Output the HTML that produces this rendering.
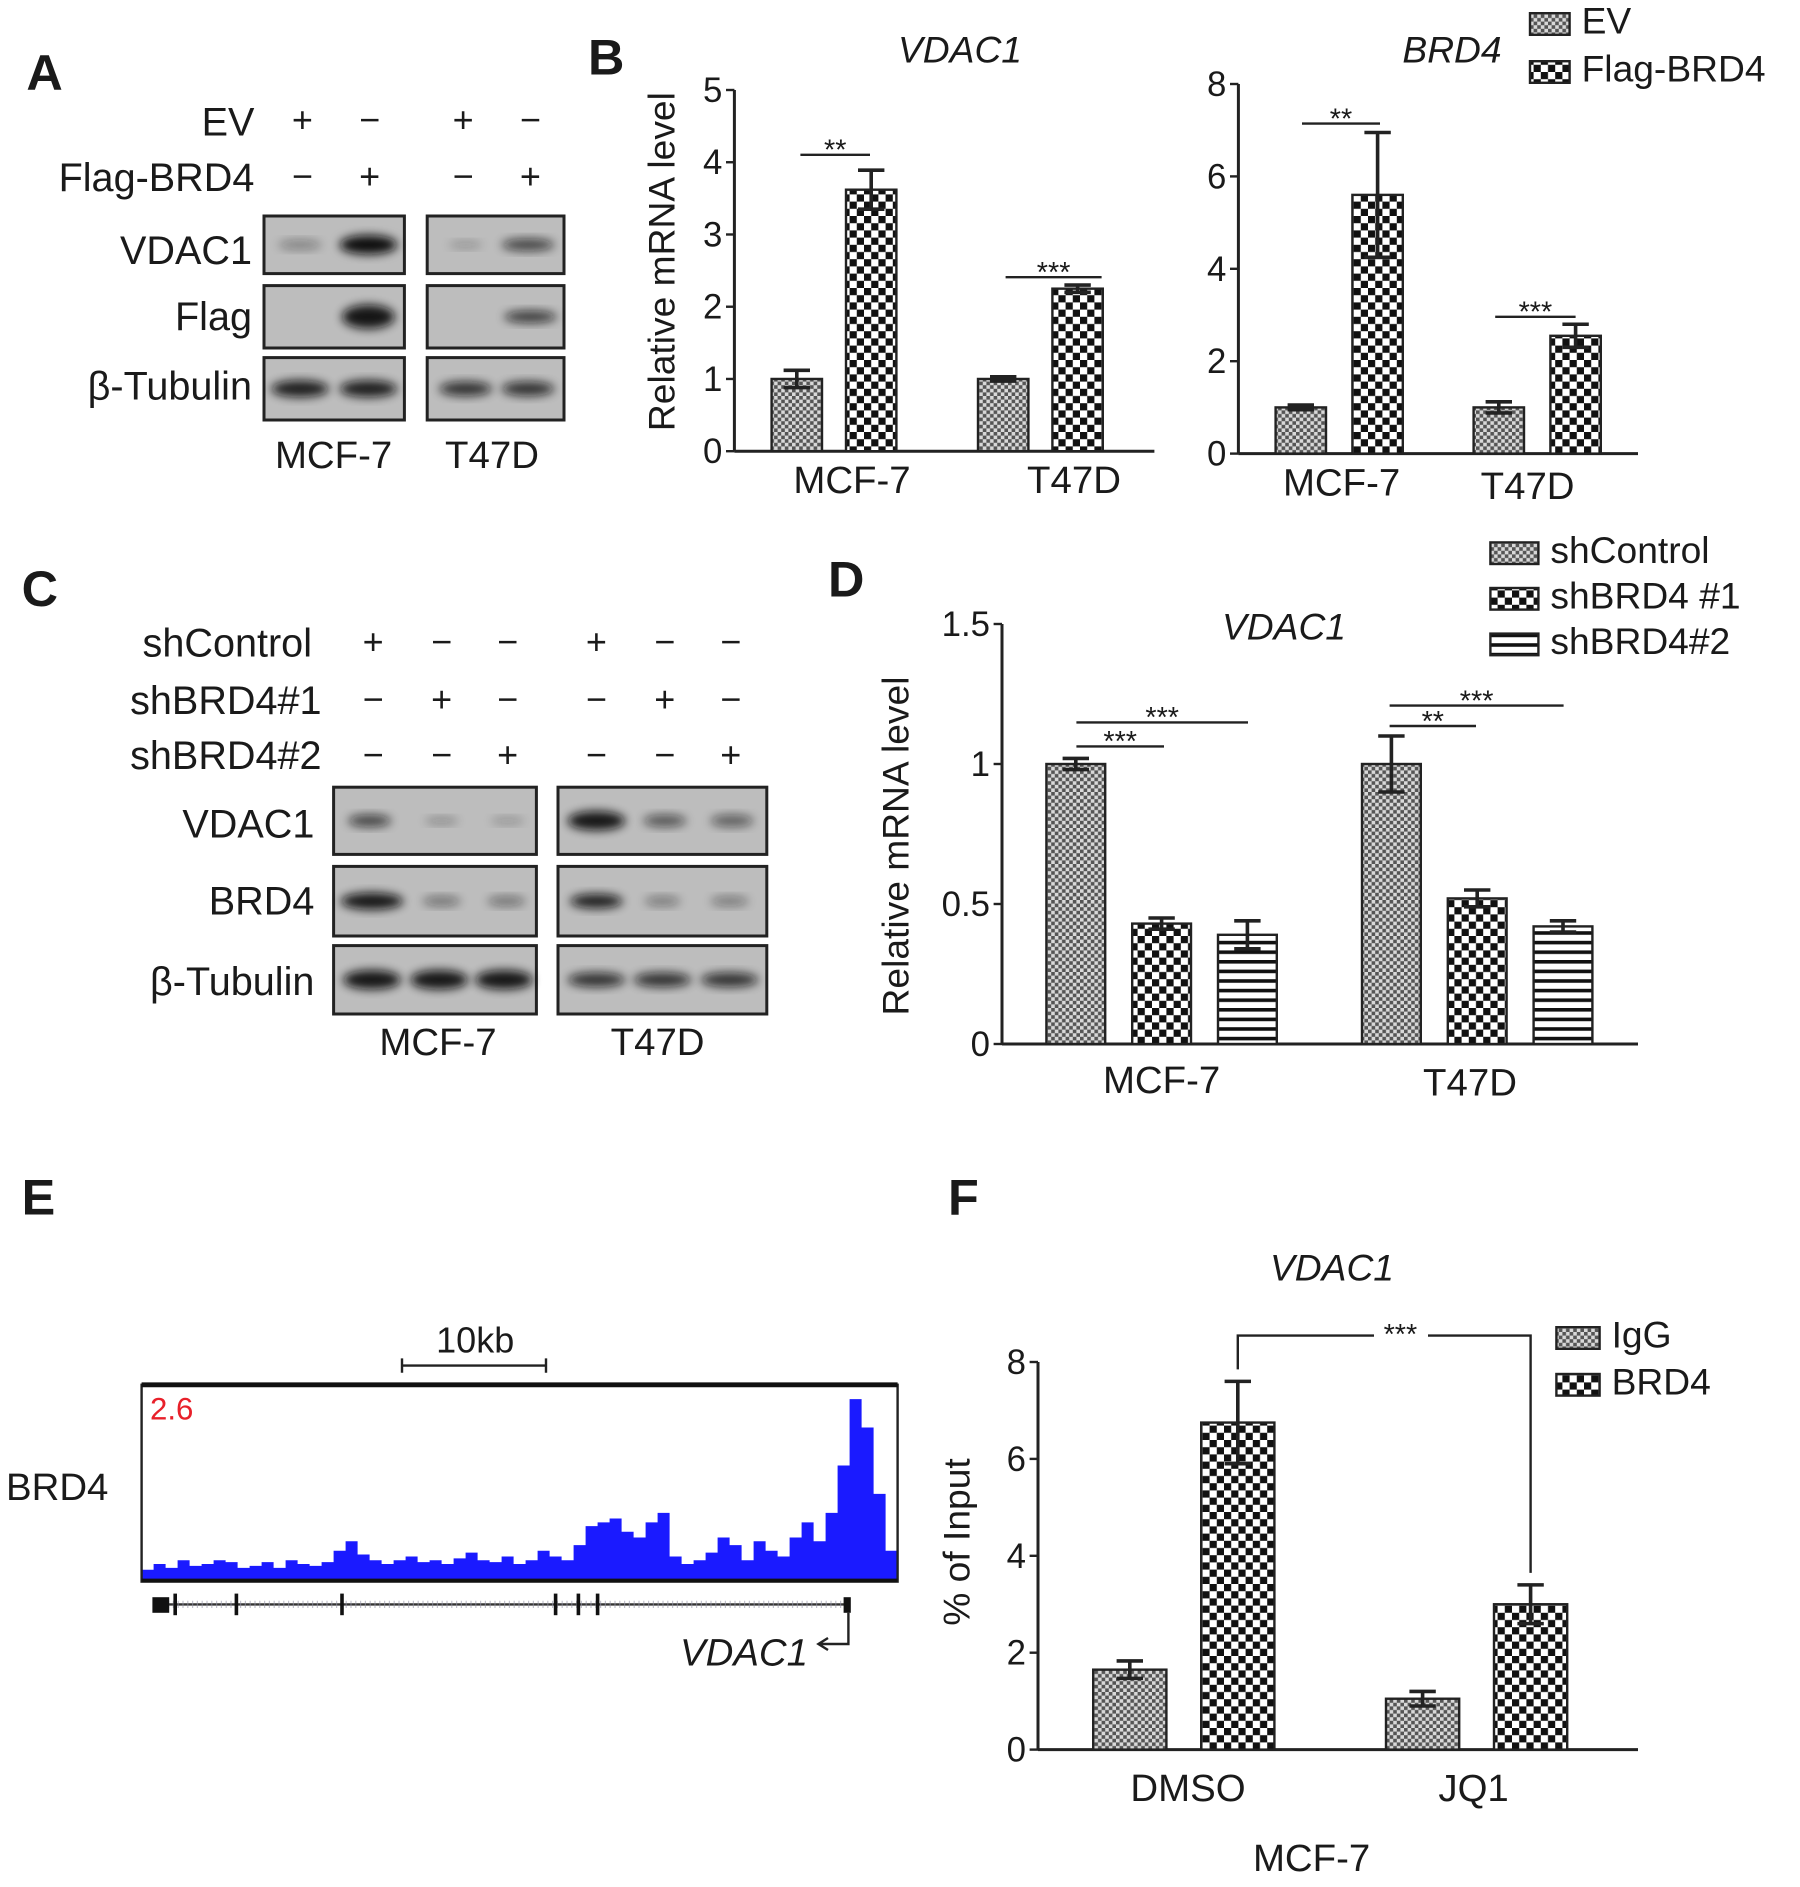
<!DOCTYPE html>
<html><head><meta charset="utf-8">
<style>
html,body{margin:0;padding:0;background:#fff;}
svg{display:block;font-family:"Liberation Sans",Arial,sans-serif;}
</style></head>
<body>
<svg id="fig" width="1800" height="1887" viewBox="0 0 1500 1572.5" xmlns="http://www.w3.org/2000/svg">
<defs>
  <pattern id="pFine" width="6" height="6" patternUnits="userSpaceOnUse">
    <rect width="6" height="6" fill="#d8d8d8"/>
    <rect width="3" height="3" fill="#555"/><rect x="3" y="3" width="3" height="3" fill="#555"/>
  </pattern>
  <pattern id="pBold" width="12" height="12" patternUnits="userSpaceOnUse">
    <rect width="12" height="12" fill="#fff"/>
    <rect width="6" height="6" fill="#111"/><rect x="6" y="6" width="6" height="6" fill="#111"/>
  </pattern>
  <pattern id="pStripe" width="8" height="8" patternUnits="userSpaceOnUse">
    <rect width="8" height="8" fill="#fff"/><rect y="0" width="8" height="3" fill="#111"/>
  </pattern>
  <filter id="blur" x="-50%" y="-50%" width="200%" height="200%"><feGaussianBlur stdDeviation="4"/></filter>
</defs>
<g id="root"></g>
</svg>
<script>
// ---------- data ----------
const bCats = ["MCF-7","T47D"];
const bVdacEV = [1.0, 1.0];
const bVdacEVErr = [0.12, 0.03];
const bVdacFlag = [3.62, 2.25];
const bVdacFlagErr = [0.27, 0.05];
const bVdacTicks = [0,1,2,3,4,5];
const bBrdEV = [1.0, 1.0];
const bBrdEVErr = [0.05, 0.12];
const bBrdFlag = [5.6, 2.55];
const bBrdFlagErr = [1.35, 0.25];
const bBrdTicks = [0,2,4,6,8];
const dCats = ["MCF-7","T47D"];
const dShControl = [1.0, 1.0];
const dShControlErr = [0.02, 0.1];
const dShBRD4a = [0.43, 0.52];
const dShBRD4aErr = [0.02, 0.03];
const dShBRD4b = [0.39, 0.42];
const dShBRD4bErr = [0.05, 0.02];
const dTicks = [0,0.5,1,1.5];
const dTickLabels = ["0","0.5","1","1.5"];
const fCats = ["DMSO","JQ1"];
const fIgG = [1.65, 1.05];
const fIgGErr = [0.18, 0.15];
const fBRD4 = [6.75, 3.0];
const fBRD4Err = [0.85, 0.4];
const fTicks = [0,2,4,6,8];
const signal = [0.05,0.08,0.06,0.1,0.07,0.08,0.1,0.09,0.06,0.07,0.09,0.06,0.1,0.08,0.07,0.09,0.15,0.2,0.13,0.1,0.08,0.1,0.12,0.09,0.1,0.08,0.11,0.14,0.1,0.09,0.12,0.08,0.1,0.15,0.12,0.1,0.18,0.28,0.3,0.32,0.25,0.22,0.3,0.35,0.12,0.08,0.1,0.14,0.22,0.18,0.1,0.2,0.15,0.12,0.22,0.3,0.2,0.35,0.6,0.95,0.8,0.45,0.15];

const NS="http://www.w3.org/2000/svg";
const root=document.getElementById('root');
function el(tag,attrs,parent){const e=document.createElementNS(NS,tag);for(const k in attrs)e.setAttribute(k,attrs[k]);(parent||root).appendChild(e);return e;}
function txt(s,x,y,size,anchor,extra,parent){const t=el('text',Object.assign({x:x,y:y,'font-size':size,'text-anchor':anchor||'start',fill:'#1a1a1a'},extra||{}),parent);t.textContent=s;return t;}

// panel letters
[["A",22,75],["B",490,62],["C",18,505],["D",690,497],["E",18,1012],["F",790,1012]].forEach(p=>{
  const t=txt(p[0],p[1],p[2],42,'start',{'font-weight':'bold'});
  
  
});

// ---------- generic bar chart ----------
function barChart(o){
  const g=el('g',{});
  
  
  const y=v=>o.y0-(v-o.tMin)/(o.tMax-o.tMin)*(o.y0-o.yTop);
  // axes
  const ya=el('line',{x1:o.x0,y1:o.yTop,x2:o.x0,y2:o.y0,stroke:'#222','stroke-width':2.5},g);
  
  
  const xa=el('line',{x1:o.x0,y1:o.y0,x2:o.x1,y2:o.y0,stroke:'#222','stroke-width':2.5},g);
  
  
  o.ticks.forEach((tv,i)=>{
    el('line',{x1:o.x0-7,y1:y(tv),x2:o.x0,y2:y(tv),stroke:'#222','stroke-width':2},g);
    const t=txt(o.tickLabels?o.tickLabels[i]:String(tv),o.x0-10,y(tv)+10,29,'end',{},g);
    
    
  });
  o.series.forEach((s,si)=>{
    s.vals.forEach((v,ci)=>{
      const bx=o.groupX[ci]+si*o.step;
      const r=el('rect',{x:bx,y:y(v),width:o.bw,height:o.y0-y(v),fill:'url(#'+s.pat+')',stroke:'#222','stroke-width':2},g);
      
      
      const cx=bx+o.bw/2, e=s.err[ci];
      const eb=el('path',{d:`M${cx},${y(v-e)}V${y(v+e)}M${cx-11},${y(v+e)}H${cx+11}M${cx-11},${y(v-e)}H${cx+11}`,stroke:'#222','stroke-width':3,fill:'none'},g);
      
      
    });
  });
  o.cats.forEach((c,ci)=>{
    const t=txt(c,o.catX[ci],o.catY[ci],32,'middle',{},g);
    
    
  });
  const yl=txt(o.ylabel,0,0,31,'middle',{transform:`translate(${o.ylx},${o.yly}) rotate(-90)`},g);
  
  
  if(o.title){const t=txt(o.title,o.title[1]||0,0,31,'middle',{'font-style':'italic'},g);}
  return {g,y};
}
function sig(g,x1,x2,yy,stars){
  const l=el('line',{x1:x1,y1:yy,x2:x2,y2:yy,stroke:'#222','stroke-width':2},g);
  
  
  const t=txt(stars,(x1+x2)/2,yy+4,24,'middle',{},g);
  
  
}
function title(s,x,y,g){const t=txt(s,x,y,31,'middle',{'font-style':'italic'},g);}
function legend(items,x,y0,dy,bw,bh,size){
  items.forEach((it,i)=>{
    const r=el('rect',{x:x,y:y0+i*dy,width:bw,height:bh,fill:'url(#'+it[1]+')',stroke:'#222','stroke-width':2});
    
    
    const t=txt(it[0],x+bw+10,y0+i*dy+bh-1,size,'start');
    
    
  });
}

// ---------- Panel B left ----------
let c=barChart({name:'chart-b-vdac1',x0:612,x1:962,y0:376,yTop:75,tMin:0,tMax:5,ticks:bVdacTicks,cats:bCats,
  groupX:[643,815],step:62,bw:42,series:[{key:'ev',vals:bVdacEV,err:bVdacEVErr,pat:'pFine'},{key:'flag-brd4',vals:bVdacFlag,err:bVdacFlagErr,pat:'pBold'}],
  catX:[710,895],catY:[411,411],ylabel:'Relative mRNA level',ylx:562,yly:218});
title('VDAC1',800,52,c.g);
sig(c.g,667,725,129,'**'); sig(c.g,838,918,231,'***');

// ---------- Panel B right ----------
c=barChart({name:'chart-b-brd4',x0:1032,x1:1365,y0:378,yTop:70,tMin:0,tMax:8,ticks:bBrdTicks,cats:bCats,
  groupX:[1063,1228],step:64,bw:42,series:[{key:'ev',vals:bBrdEV,err:bBrdEVErr,pat:'pFine'},{key:'flag-brd4',vals:bBrdFlag,err:bBrdFlagErr,pat:'pBold'}],
  catX:[1118,1273],catY:[413,416],ylabel:'',ylx:0,yly:0});
title('BRD4',1210,52,c.g);
sig(c.g,1085,1150,103,'**'); sig(c.g,1246,1313,264,'***');
legend([["EV","pFine","ev"],["Flag-BRD4","pBold","flag-brd4"]],1275,11,40,33,18,31);

// ---------- Panel D ----------
c=barChart({name:'chart-d-vdac1',x0:835,x1:1365,y0:870,yTop:520,tMin:0,tMax:1.5,ticks:dTicks,tickLabels:dTickLabels,cats:dCats,
  groupX:[872,1135],step:71.5,bw:49,series:[{key:'shcontrol',vals:dShControl,err:dShControlErr,pat:'pFine'},{key:'shbrd4-1',vals:dShBRD4a,err:dShBRD4aErr,pat:'pBold'},{key:'shbrd4-2',vals:dShBRD4b,err:dShBRD4bErr,pat:'pStripe'}],
  catX:[968,1225],catY:[911,913],ylabel:'Relative mRNA level',ylx:757,yly:705});
title('VDAC1',1070,533,c.g);
sig(c.g,897,970,622,'***'); sig(c.g,897,1040,602,'***');
sig(c.g,1158,1230,605,'**'); sig(c.g,1158,1303,588,'***');
legend([["shControl","pFine","shcontrol"],["shBRD4 #1","pBold","shbrd4-1"],["shBRD4#2","pStripe","shbrd4-2"]],1242,452,38,40,18,31);

// ---------- Panel F ----------
c=barChart({name:'chart-f-vdac1',x0:865,x1:1365,y0:1458,yTop:1135,tMin:0,tMax:8,ticks:fTicks,cats:fCats,
  groupX:[911,1155],step:90,bw:61,series:[{key:'igg',vals:fIgG,err:fIgGErr,pat:'pFine'},{key:'brd4',vals:fBRD4,err:fBRD4Err,pat:'pBold'}],
  catX:[990,1228],catY:[1501,1501],ylabel:'% of Input',ylx:808,yly:1285});
title('VDAC1',1110,1067,c.g);
{
  const yF=c.y;
  const xa=911+90+61/2, xb=1155+90+61/2;
  const p=el('path',{d:`M${xa},${yF(fBRD4[0]+fBRD4Err[0])-10}V1113H${1145}M${1190},1113H${xb}V${yF(fBRD4[1]+fBRD4Err[1])-10}`,stroke:'#222','stroke-width':2,fill:'none'},c.g);
  
  
  const t=txt('***',1167,1120,24,'middle',{},c.g);
  
  
}
legend([["IgG","pFine","igg"],["BRD4","pBold","brd4"]],1297,1106,39,36,18,31);
{const t=txt('MCF-7',1093,1559,32,'middle');}

// ---------- Western blots ----------
function blot(name,x,y,w,h,bands){
  const g=el('g',{});
  
  
  el('rect',{x:x,y:y,width:w,height:h,fill:'#bdbdbd',stroke:'#222','stroke-width':2.5},g);
  bands.forEach(b=>{
    el('ellipse',{cx:b[0],cy:y+h/2,rx:b[1],ry:b[2],fill:'#111',opacity:b[3],filter:'url(#blur)'},g);
  });
}
function rowLabel(s,x,y,n){const t=txt(s,x,y,33,'end');}
// Panel A
rowLabel('EV',212,113,'ev-label'); rowLabel('Flag-BRD4',212,159,'flag-brd4-label');
[[252,'+','−'],[308,'−','+'],[386,'+','−'],[442,'−','+']].forEach(s=>{
  txt(s[1],s[0],110,30,'middle'); txt(s[2],s[0],157,30,'middle');
});
rowLabel('VDAC1',210,220,'vdac1-row-label'); rowLabel('Flag',210,275,'flag-row-label'); rowLabel('β-Tubulin',210,333,'tubulin-row-label');
blot('blot-a-vdac1-mcf7',220,180,117,48,[[250,18,4,0.35],[307,24,8,1]]);
blot('blot-a-vdac1-t47d',356,180,114,48,[[388,14,3,0.25],[440,22,5,0.7]]);
blot('blot-a-flag-mcf7',220,238,117,52,[[307,22,10,0.95]]);
blot('blot-a-flag-t47d',356,238,114,52,[[442,22,5,0.75]]);
blot('blot-a-tubulin-mcf7',220,298,117,52,[[250,24,7,0.9],[307,24,7,0.9]]);
blot('blot-a-tubulin-t47d',356,298,114,52,[[388,22,6,0.8],[440,22,6,0.8]]);
txt('MCF-7',278,390,32,'middle'); txt('T47D',410,390,32,'middle');
// Panel C
rowLabel('shControl',260,547,'shcontrol-label'); rowLabel('shBRD4#1',268,595,'shbrd4-1-label'); rowLabel('shBRD4#2',268,641,'shbrd4-2-label');
const cx=[311,368,423,497,554,609];
const signs=[['+','−','−','+','−','−'],['−','+','−','−','+','−'],['−','−','+','−','−','+']];
signs.forEach((r,ri)=>r.forEach((s,i)=>txt(s,cx[i],[545,593,639][ri],30,'middle')));
rowLabel('VDAC1',262,698,'vdac1-row-label'); rowLabel('BRD4',262,762,'brd4-row-label'); rowLabel('β-Tubulin',262,829,'tubulin-row-label');
blot('blot-c-vdac1-mcf7',278,656,169,56,[[308,18,5,0.7],[368,14,3,0.3],[423,14,3,0.25]]);
blot('blot-c-vdac1-t47d',465,656,174,56,[[497,24,8,0.95],[554,18,5,0.6],[610,18,5,0.55]]);
blot('blot-c-brd4-mcf7',278,722,169,58,[[310,26,7,0.95],[368,16,4,0.45],[422,16,4,0.45]]);
blot('blot-c-brd4-t47d',465,722,174,58,[[497,22,6,0.9],[552,15,4,0.4],[608,16,4,0.4]]);
blot('blot-c-tubulin-mcf7',278,788,169,57,[[310,24,8,0.95],[366,24,8,0.95],[420,24,8,0.95]]);
blot('blot-c-tubulin-t47d',465,788,174,57,[[497,24,6,0.8],[552,24,6,0.8],[608,24,6,0.8]]);
txt('MCF-7',365,879,32,'middle'); txt('T47D',548,879,32,'middle');

// ---------- Panel E track ----------
{
  const g=el('g',{});
  
  
  const x0=118,x1=748,yb=1316,yt=1158;
  const bw=(x1-x0)/signal.length;
  let d=`M${x0},${yb}`;
  signal.forEach((v,i)=>{const yy=yb-v*(yb-yt);d+=`V${yy}H${x0+(i+1)*bw}`;});
  d+=`V${yb}Z`;
  el('path',{d:d,fill:'#1a1aff'},g);
  el('rect',{x:x0,y:1154,width:x1-x0,height:164,fill:'none',stroke:'#222','stroke-width':2});
  el('line',{x1:x0,y1:1154,x2:x1,y2:1154,stroke:'#111','stroke-width':4});
  el('line',{x1:x0,y1:1317,x2:x1,y2:1317,stroke:'#111','stroke-width':3});
  const t=txt('2.6',125,1183,26,'start',{fill:'#e8202a'});t.setAttribute('fill','#e8202a');
  
  
  const bl=txt('BRD4',5,1250,32,'start');
  
  
  // scale bar
  el('path',{d:'M335,1132V1144M335,1138H455M455,1132V1144',stroke:'#222','stroke-width':2,fill:'none'});
  const sb=txt('10kb',396,1127,30,'middle');
  
  
  // gene model
  const gm=el('g',{});
  
  
  el('line',{x1:128,y1:1337,x2:708,y2:1337,stroke:'#333','stroke-width':2},gm);
  el('line',{x1:128,y1:1337,x2:708,y2:1337,stroke:'#99a','stroke-width':6,'stroke-dasharray':'1 3',opacity:0.6},gm);
  el('rect',{x:127,y:1331,width:14,height:13,fill:'#111'},gm);
  [146,197,285,463,482,498].forEach(x=>el('rect',{x:x-1.5,y:1328,width:3,height:18,fill:'#111'},gm));
  el('rect',{x:703,y:1331,width:6,height:13,fill:'#111'},gm);
  el('path',{d:'M707,1344V1370H682M690,1365L682,1370L690,1375',stroke:'#222','stroke-width':2,fill:'none'},gm);
  const gl=txt('VDAC1',620,1388,32,'middle',{'font-style':'italic'});
  
  
}
</script>
</body></html>
